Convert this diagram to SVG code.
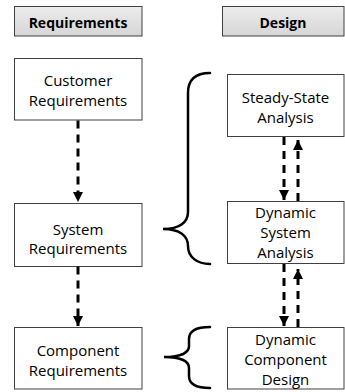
<svg xmlns="http://www.w3.org/2000/svg" width="345" height="392" viewBox="0 0 345 392">
  <defs>
    <linearGradient id="hdr" x1="0" y1="0" x2="0" y2="1">
      <stop offset="0" stop-color="#ececec"/>
      <stop offset="1" stop-color="#d6d6d6"/>
    </linearGradient>
    <marker id="ah" viewBox="0 0 10 10" refX="10" refY="5" markerWidth="10" markerHeight="10" markerUnits="userSpaceOnUse" orient="auto">
      <path d="M0,0 L10,5 L0,10 Z" fill="#000"/>
    </marker>
    <style>
      .hdr { fill: url(#hdr); stroke: #404040; stroke-width: 1; }
      .box { fill: #ffffff; stroke: #404040; stroke-width: 1; }
      .t { font-family: "Open Sans", "Liberation Sans", sans-serif; font-size: 15px; fill: #000; text-anchor: middle; }
      .h { font-family: "Open Sans", "Liberation Sans", sans-serif; font-size: 14px; font-weight: bold; fill: #000; text-anchor: middle; }
      .arr { fill: none; stroke: #000; stroke-width: 3; stroke-dasharray: 8 6; marker-end: url(#ah); }
      .brace { fill: none; stroke: #000; stroke-width: 2.5; stroke-linecap: round; }
    </style>
  </defs>

  <g id="hdr-requirements">
    <rect class="hdr" x="14.5" y="6.5" width="127.5" height="29.5"/>
    <text class="h" x="78" y="28">Requirements</text>
  </g>
  <g id="hdr-design">
    <rect class="hdr" x="222.5" y="6.5" width="121.5" height="29.5"/>
    <text class="h" x="283" y="28">Design</text>
  </g>

  <g id="customer-req">
    <rect class="box" x="14.5" y="58.5" width="127.5" height="61.5"/>
    <text class="t" x="78" y="86">Customer</text>
    <text class="t" x="78" y="106">Requirements</text>
  </g>
  <g id="system-req">
    <rect class="box" x="14.5" y="203.5" width="127.5" height="63"/>
    <text class="t" x="78" y="235">System</text>
    <text class="t" x="78" y="254">Requirements</text>
  </g>
  <g id="component-req">
    <rect class="box" x="14.5" y="327.5" width="127.5" height="61.5"/>
    <text class="t" x="78" y="356">Component</text>
    <text class="t" x="78" y="376">Requirements</text>
  </g>

  <g id="steady-state">
    <rect class="box" x="227.5" y="74.5" width="116.5" height="62"/>
    <text class="t" x="285.5" y="103">Steady-State</text>
    <text class="t" x="285.5" y="123">Analysis</text>
  </g>
  <g id="dynamic-system">
    <rect class="box" x="227.5" y="201.5" width="116.5" height="62"/>
    <text class="t" x="285.5" y="218">Dynamic</text>
    <text class="t" x="285.5" y="238">System</text>
    <text class="t" x="285.5" y="258">Analysis</text>
  </g>
  <g id="dynamic-component">
    <rect class="box" x="227.5" y="327.5" width="116.5" height="61.5"/>
    <text class="t" x="285.5" y="345">Dynamic</text>
    <text class="t" x="285.5" y="365">Component</text>
    <text class="t" x="285.5" y="385">Design</text>
  </g>

  <g id="connectors">
    <path class="arr" d="M78,120.5 L78,202"/>
    <path class="arr" d="M78,266.5 L78,326"/>
    <path class="arr" d="M284,137 L284,200"/>
    <path class="arr" d="M298,201 L298,140"/>
    <path class="arr" d="M284,264 L284,326"/>
    <path class="arr" d="M298,327 L298,269"/>
  </g>

  <g id="braces">
    <path class="brace" d="M210,73 C195,73 188,80 188,93 L188,212 C188,222 180,229 163,229 C180,229 188,236 188,246 C188,257 197,264 210,264"/>
    <path class="brace" d="M210,327 C197,327 189,331 189,339 L189,346 C189,352 182,357 164,357 C182,357 189,362 189,368 L189,376 C189,384 197,388 210,388"/>
  </g>
</svg>
